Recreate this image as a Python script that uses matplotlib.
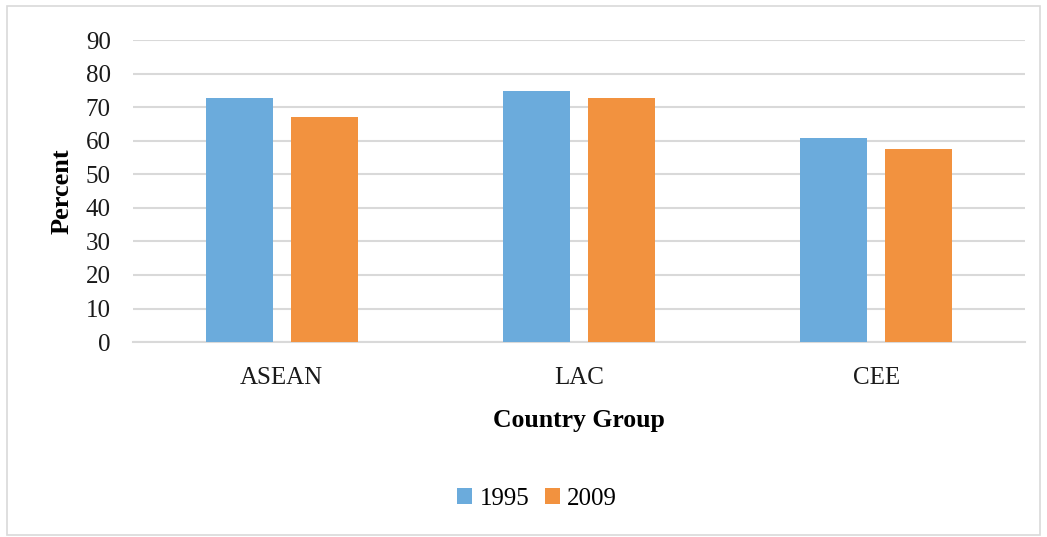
import matplotlib
matplotlib.use("Agg")
import numpy as np
import matplotlib.pyplot as plt
from matplotlib.patches import Rectangle

# data
groups = ["ASEAN", "LAC", "CEE"]
years = ["1995", "2009"]
values_1995 = [72.8, 74.9, 60.9]
values_2009 = [67.2, 72.7, 57.5]
colors = ["#6BABDC", "#F2923F"]

plt.rcParams["font.family"] = ["Liberation Serif", "DejaVu Serif"]

fig = plt.figure(figsize=(10.47, 5.37), dpi=100)
ax = fig.add_axes([0.127, 0.363, 0.852, 0.5625])

x = np.arange(len(groups))
w = 0.225
ax.bar(x - 0.143, values_1995, w, color=colors[0], label=years[0], zorder=3)
ax.bar(x + 0.143, values_2009, w, color=colors[1], label=years[1], zorder=3)

ax.set_xlim(-0.5, 2.5)
ax.set_ylim(0, 90)
ax.set_yticks(range(0, 91, 10))
ax.set_xticks(x)
ax.set_xticklabels(groups)
ax.grid(axis="y", color="#d9d9d9", linewidth=1.5, zorder=0)
for s in ["top", "right", "left"]:
    ax.spines[s].set_visible(False)
ax.spines["bottom"].set_color("#d9d9d9")
ax.spines["bottom"].set_linewidth(1.5)
ax.tick_params(axis="both", length=0, labelsize=18, colors="#1a1a1a")
ax.tick_params(axis="y", pad=16)
ax.tick_params(axis="x", pad=18)

ax.set_ylabel("Percent", fontsize=19, fontweight="bold", labelpad=9)
ax.set_xlabel("Country Group", fontsize=18.5, fontweight="bold", labelpad=14)

fig.legend(loc="center", bbox_to_anchor=(0.513, 0.071), ncol=2, frameon=False,
           fontsize=18, handlelength=0.6, handleheight=0.6, handletextpad=0.3,
           columnspacing=0.6)

# chart area border
fig.patches.append(Rectangle((0.007, 0.004), 0.986, 0.984, transform=fig.transFigure,
                             fill=False, edgecolor="#d9d9d9", linewidth=1.2))

fig.savefig("out.png", dpi=100)
